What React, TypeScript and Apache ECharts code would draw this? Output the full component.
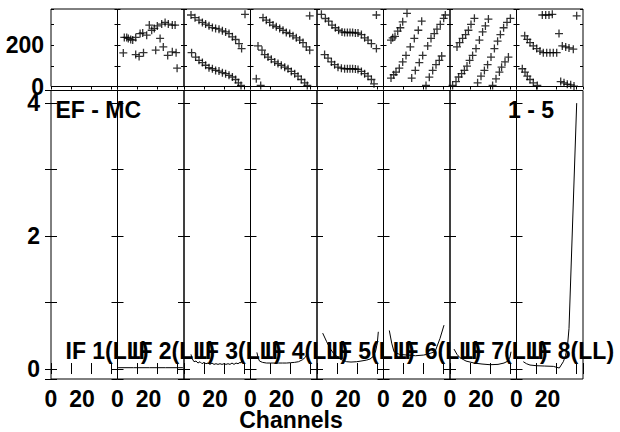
import React, { useEffect, useRef } from 'react';
import * as echarts from 'echarts';

// ---------- data ----------
const ifLabels = ['IF 1(LL)', 'IF 2(LL)', 'IF 3(LL)', 'IF 4(LL)', 'IF 5(LL)', 'IF 6(LL)', 'IF 7(LL)', 'IF 8(LL)'];
const phaseTickLabels = [0, 200];
const ampTickLabels = [0, 2, 4];
const channelTickLabels = [0, 20];
const sourceLabel = 'EF - MC';
const baselineLabel = '1 - 5';
const xTitle = 'Channels';

// phase (degrees) vs channel, per IF
const phaseIF1: number[][] = [];
const phaseIF2: number[][] = [
  [3.4, 238], [4.6, 238], [5.4, 233], [6.6, 228], [7.6, 225], [9.1, 238], [11.3, 257], [12.6, 260],
  [14.6, 249], [15.9, 298], [17.1, 273], [18.4, 282], [19.9, 294], [21.3, 233], [22.1, 303], [23.8, 311],
  [25.4, 303], [27.4, 298], [28.8, 298],
  [2.9, 163], [9.1, 155], [10.8, 146], [13, 164], [19.1, 176], [22.9, 192], [25.1, 151], [27.4, 168],
  [29.3, 164], [29.8, 89],
];
const phaseIF3: number[][] = [
  [3.5, 347], [5.5, 334], [7.5, 322], [9.2, 311], [10.8, 303], [12.5, 295], [14.2, 286], [15.8, 282],
  [17.5, 278], [19.2, 270], [20.8, 265], [22.5, 257], [24.2, 241], [25.8, 228], [27.5, 208], [28.8, 184],
  [30.5, 350],
  [3.8, 164], [5.8, 143], [7.5, 127], [9.2, 116], [10.8, 103], [12.5, 91], [14.2, 86], [15.8, 78],
  [17.5, 75], [19.2, 67], [20.8, 62], [22.5, 54], [24.2, 46], [25.8, 34], [27.2, 18], [28.5, 5],
];
const phaseIF4: number[][] = [
  [6.25, 334], [7.9, 322], [9.6, 311], [11.25, 298], [12.9, 290], [14.6, 282], [16.25, 273], [17.9, 262],
  [19.6, 257], [21.25, 246], [22.9, 236], [24.6, 225], [26.25, 213], [27.9, 192], [29.6, 176], [29.6, 343],
  [3.75, 197], [5.75, 176], [7.1, 155], [8.75, 143], [10.4, 132], [12.1, 119], [13.75, 111], [15.4, 103],
  [17.1, 94], [18.75, 86], [20.4, 73], [22.1, 62], [23.75, 50], [25.4, 34], [27.1, 18], [28.4, 5],
  [2.9, 37], [5.1, 5],
];
const phaseIF5: number[][] = [
  [2.2, 350], [4.2, 330], [5.8, 317], [7.5, 298], [9.2, 285], [10.8, 273], [12.5, 265], [13.8, 262],
  [15.2, 262], [16.5, 262], [17.8, 262], [19.2, 260], [20.5, 259], [22.2, 252], [23.8, 236], [25.5, 225],
  [27.2, 208], [29.7, 184], [29.7, 347],
  [3.8, 155], [5.5, 138], [7.2, 119], [8.8, 106], [10.5, 94], [12.2, 89], [13.8, 86], [15.2, 86],
  [16.5, 86], [17.8, 86], [19.2, 85], [20.5, 83], [22.2, 73], [23.8, 62], [25.5, 50], [27.2, 34],
  [28.5, 13],
];
const phaseIF6: number[][] = [
  [3.75, 225], [4.6, 236], [5.75, 243], [7.1, 269], [8.4, 285], [9.6, 314], [11.75, 355],
  [3.75, 41], [5.1, 57], [6.25, 70], [7.9, 89], [9.6, 119], [11.25, 151], [13.4, 192], [15.4, 233],
  [17.4, 273], [19.1, 317],
  [14.1, 41], [15.9, 78], [17.9, 116], [19.6, 151], [22.1, 197], [23.75, 233], [25.4, 257], [26.75, 278],
  [28.4, 301], [30.1, 331], [30.9, 347],
  [21.25, 5], [22.9, 45], [24.6, 78], [26.25, 106], [27.9, 127], [29.1, 148],
];
const phaseIF7: number[][] = [
  [3.5, 192], [4.8, 213], [6.3, 233], [7.8, 252], [9.2, 273], [10.5, 301], [12.2, 331],
  [1.3, 5], [3.0, 24], [4.3, 46], [5.8, 62], [7.2, 78], [8.5, 99], [9.8, 127], [11.3, 151], [13, 184],
  [14.7, 225], [16.3, 265], [17.7, 294], [19.2, 327],
  [13.8, 18], [15.5, 50], [17.2, 78], [18.8, 106], [20.5, 143], [22.2, 184], [23.8, 220], [25.2, 252],
  [26.8, 285], [28.5, 311], [30.2, 331],
  [21.3, 5], [23, 37], [24.7, 70], [25.8, 94], [27.5, 119], [29.2, 143],
];
const phaseIF8: number[][] = [
  [12.9, 347], [14.6, 347], [16.25, 347], [17.9, 350], [30.1, 343], [21.25, 257],
  [4.1, 246], [5.4, 229], [6.75, 213], [8.4, 197], [10.1, 184], [11.75, 172], [13.4, 164], [15.1, 164],
  [16.75, 164], [18.4, 164], [20.1, 164], [22.9, 197], [24.6, 192], [26.25, 187], [28.4, 181],
  [2.9, 86], [4.25, 70], [5.4, 50], [6.75, 34], [8.4, 18], [10.4, 5], [22.1, 24], [23.75, 18],
  [25.4, 11], [27.1, 8], [28.75, 2],
];

// amplitude vs channel, per IF
const ampIF1: number[][] = [];
const ampIF2: number[][] = [[0.3, 0.02], [8, 0.02], [16, 0.02], [24, 0.02], [32.7, 0.02]];
const ampIF3: number[][] = [
  [3.5, 0.22], [4, 0.16], [5, 0.11], [6, 0.12], [7, 0.09], [8, 0.11], [9, 0.08], [10, 0.1], [11, 0.08],
  [12, 0.09], [13, 0.07], [14, 0.09], [15, 0.07], [16, 0.08], [17, 0.07], [18, 0.08], [19, 0.07],
  [20, 0.08], [21, 0.07], [22, 0.08], [23, 0.07], [24, 0.09], [25, 0.07], [26, 0.09], [27, 0.08],
  [28, 0.1], [28.5, 0.09], [29, 0.14],
];
const ampIF4: number[][] = [
  [3.2, 0.25], [3.8, 0.17], [4.5, 0.12], [6, 0.1], [8, 0.09], [10, 0.09], [12, 0.09], [14, 0.09],
  [16, 0.09], [18, 0.09], [20, 0.095], [22, 0.1], [24, 0.11], [26, 0.14], [27.5, 0.18], [28.6, 0.25],
];
const ampIF5: number[][] = [
  [2.85, 0.54], [4.85, 0.41], [6.5, 0.31], [8.15, 0.24], [11.5, 0.15], [14.85, 0.11], [17, 0.105],
  [19.85, 0.11], [22, 0.12], [24.85, 0.135], [26.5, 0.15], [28.15, 0.19], [29.3, 0.27], [30.15, 0.39],
  [30.65, 0.56],
];
const ampIF6: number[][] = [
  [2.9, 0.58], [4.1, 0.39], [5.25, 0.26], [8, 0.22], [12, 0.21], [16, 0.2], [20, 0.21], [21.6, 0.22],
  [25.75, 0.26], [28.25, 0.46], [30.25, 0.66],
];
const ampIF7: number[][] = [
  [2, 0.3], [3.5, 0.22], [5, 0.17], [8, 0.12], [12, 0.09], [16, 0.075], [20, 0.065], [24, 0.07],
  [27, 0.09], [29, 0.12], [30, 0.18], [30.5, 0.26],
];
const ampIF8: number[][] = [
  [3.4, 0.11], [5, 0.08], [6.75, 0.06], [10, 0.05], [14, 0.045], [18.4, 0.04], [21.4, 0.015],
  [23.4, 0.11], [24.5, 0.2], [25.5, 0.35], [26.25, 0.61], [30.1, 4.0],
];

const phaseData = [phaseIF1, phaseIF2, phaseIF3, phaseIF4, phaseIF5, phaseIF6, phaseIF7, phaseIF8];
const ampData = [ampIF1, ampIF2, ampIF3, ampIF4, ampIF5, ampIF6, ampIF7, ampIF8];

// ---------- layout ----------
const PANEL_LEFT = 51;
const PANEL_W = 66.5;
const TOP_Y = 9;
const TOP_H = 77.5;
const BOT_Y = 90.5;
const BOT_H = 288.5;
const CH_MIN = 0;
const CH_MAX = 33.25;
const FONT = 'Liberation Sans';
const FS = 23;
const PLUS = 'path://M3.35,0H4.65V3.35H8V4.65H4.65V8H3.35V4.65H0V3.35H3.35Z';

const txt = { fontFamily: FONT, fontWeight: 'bold' as const, fontSize: FS, color: '#000' };
const gtxt = { fill: '#000', fontFamily: FONT, fontWeight: 'bold', fontSize: FS, verticalAlign: 'middle' };

export default function App() {
  const ref = useRef<HTMLDivElement>(null);
  useEffect(() => {
    const chart = echarts.init(ref.current!, null, { renderer: 'svg' });
    const grids: any[] = [];
    const xAxes: any[] = [];
    const yAxes: any[] = [];
    const series: any[] = [];
    const graphic: any[] = [];
    const tickStyle = { color: '#000', width: 1 };

    for (let k = 0; k < 8; k++) {
      const left = PANEL_LEFT + PANEL_W * k;
      const gTop = grids.length;
      grids.push({ left, top: TOP_Y, width: PANEL_W, height: TOP_H, show: true, borderColor: '#000', borderWidth: 1, backgroundColor: 'transparent' });
      const gBot = grids.length;
      grids.push({ left, top: BOT_Y, width: PANEL_W, height: BOT_H, show: true, borderColor: '#000', borderWidth: 1, backgroundColor: 'transparent' });

      const baseX = { type: 'value', min: CH_MIN, max: CH_MAX, interval: 10, axisLine: { show: false }, splitLine: { show: false } };
      const xTop = xAxes.length;
      xAxes.push({ ...baseX, gridIndex: gTop, position: 'top', axisTick: { inside: true, length: 3, lineStyle: tickStyle }, axisLabel: { show: false } });
      const xBot = xAxes.length;
      xAxes.push({
        ...baseX, gridIndex: gBot, position: 'bottom',
        axisTick: { inside: true, length: 6, lineStyle: tickStyle },
        axisLabel: {
          ...txt, margin: 8,
          formatter: (v: number) => (v === channelTickLabels[0] ? String(v) : v === channelTickLabels[1] ? '{s|' + v + '}' : ''),
          rich: { s: { ...txt, padding: [0, 18, 0, 0] } },
        },
      });
      xAxes.push({ ...baseX, gridIndex: gBot, position: 'top', axisTick: { inside: true, length: 5, lineStyle: tickStyle }, axisLabel: { show: false } });

      const baseYTop = { type: 'value', min: 0, max: 376, interval: 100, axisLine: { show: false }, splitLine: { show: false } };
      const yTop = yAxes.length;
      yAxes.push({
        ...baseYTop, gridIndex: gTop, position: 'left',
        axisTick: { inside: true, length: 3, lineStyle: tickStyle },
        axisLabel: { show: k === 0, ...txt, margin: 7, formatter: (v: number) => (phaseTickLabels.includes(v) ? String(v) : '') },
      });
      yAxes.push({ ...baseYTop, gridIndex: gTop, position: 'right', axisTick: { inside: true, length: 3, lineStyle: tickStyle }, axisLabel: { show: false } });

      const baseYBot = { type: 'value', min: -0.15, max: 4.19, splitNumber: 4, axisLine: { show: false }, splitLine: { show: false } };
      const yBot = yAxes.length;
      yAxes.push({
        ...baseYBot, gridIndex: gBot, position: 'left',
        axisTick: { inside: true, length: 6, lineStyle: tickStyle },
        axisLabel: { show: k === 0, ...txt, margin: 11, formatter: (v: number) => (ampTickLabels.some((t) => Math.abs(t - v) < 1e-9) ? String(Math.round(v)) : '') },
      });
      yAxes.push({ ...baseYBot, gridIndex: gBot, position: 'right', axisTick: { inside: true, length: 6, lineStyle: tickStyle }, axisLabel: { show: false } });

      series.push({
        type: 'scatter', xAxisIndex: xTop, yAxisIndex: yTop, data: phaseData[k],
        symbol: PLUS, symbolSize: 8, itemStyle: { color: '#000' }, silent: true,
      });
      series.push({
        type: 'line', xAxisIndex: xBot, yAxisIndex: yBot, data: ampData[k],
        showSymbol: false, symbol: 'none', lineStyle: { color: '#000', width: 1 }, silent: true,
      });

      graphic.push({ type: 'text', x: left + 14.5, y: 351, z: 10, style: { ...gtxt, text: ifLabels[k] } });
    }

    graphic.push({ type: 'text', x: 55.5, y: 110, z: 10, style: { ...gtxt, text: sourceLabel } });
    graphic.push({ type: 'text', x: 508, y: 110, z: 10, style: { ...gtxt, text: baselineLabel } });
    graphic.push({ type: 'text', x: 291, y: 419.5, z: 10, style: { ...gtxt, text: xTitle, align: 'center' } });

    chart.setOption({
      animation: false,
      backgroundColor: '#fff',
      grid: grids,
      xAxis: xAxes,
      yAxis: yAxes,
      series,
      graphic,
    });
    return () => chart.dispose();
  }, []);
  return <div ref={ref} style={{ position: 'fixed', left: 0, top: 0, width: 620, height: 432, background: '#fff' }} />;
}
